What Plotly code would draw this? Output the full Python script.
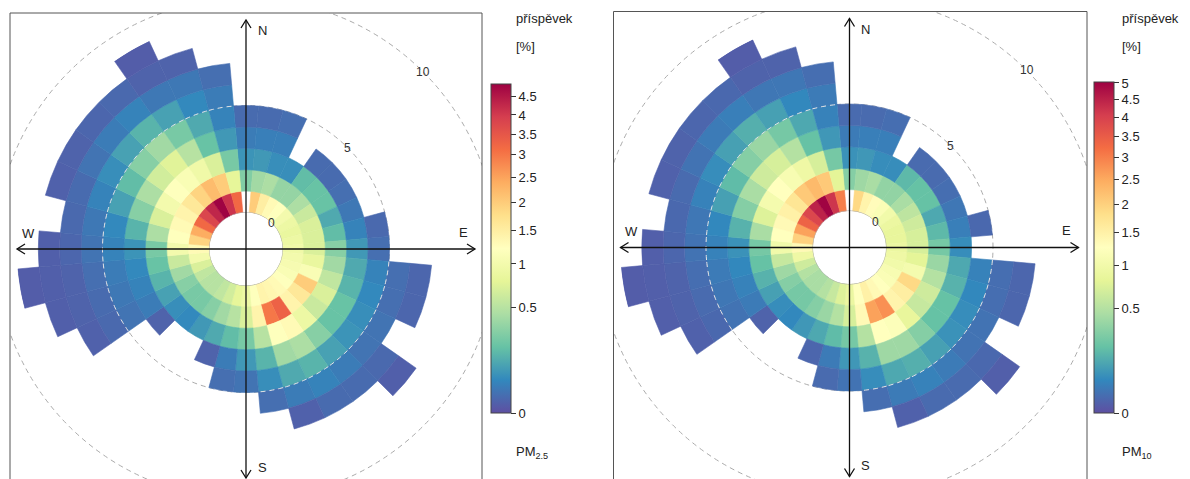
import numpy as np
import plotly.graph_objects as go

# ---------------- data ----------------
directions = list(range(0, 360, 10))          # wind direction bin centres (deg, from N clockwise)
speed_rings = list(range(1, 10))              # 1 m/s wind-speed bins (outer edge)
N = None

# PM2.5 contribution [%] per wind-speed bin, 36 directions
pm25_ws1 = [N, 2.0, 1.5, 1.3, 1.2, 1.0, 0.9, 0.85, 0.9, 0.95, 1.0, 1.05, 1.1, 1.2, 1.3, 1.35, 1.4, 1.2,
            0.9, 0.8, 0.65, 0.55, 0.5, 0.5, 0.55, 0.7, 1.0, 1.3, 1.9, 2.4, 3.2, 3.8, 4.3, 4.85, 4.1, 3.2]
pm25_ws2 = [0.28, 0.4, 0.45, 0.35, 0.35, 0.45, 0.6, 0.7, 0.7, 0.7, 0.85, 1.1, 2.0, 1.6, 1.4, 3.3, 3.0, 1.4,
            0.7, 0.5, 0.4, 0.3, 0.25, 0.25, 0.3, 0.4, 0.6, 1.0, 1.2, 1.3, 1.4, 1.6, 1.9, 2.2, 2.0, 0.8]
pm25_ws3 = [0.07, 0.08, 0.06, 0.06, 0.18, 0.2, 0.2, 0.12, 0.18, 0.3, 0.4, 0.55, 0.7, 0.6, 0.9, 1.3, 1.2, 0.5,
            0.25, 0.18, 0.12, 0.08, 0.05, 0.06, 0.1, 0.15, 0.2, 0.25, 0.45, 0.7, 1.0, 1.2, 1.1, 0.95, 0.7, 0.25]
pm25_ws4 = [0.03, 0.035, 0.035, N, 0.012, 0.012, 0.015, 0.025, 0.04, 0.08, 0.12, 0.15, 0.2, 0.2, 0.3, 0.45, 0.4, 0.15,
            0.08, 0.03, 0.006, N, N, 0.006, 0.03, 0.04, 0.05, 0.07, 0.15, 0.3, 0.45, 0.65, 0.75, 0.5, 0.2, 0.08]
pm25_ws5 = [0.012, 0.012, 0.015, N, N, N, N, N, 0.01, 0.015, 0.04, 0.05, 0.06, 0.07, 0.1, 0.15, 0.12, 0.06,
            0.02, 0.015, N, N, N, N, 0.02, 0.025, 0.03, 0.04, 0.05, 0.1, 0.18, 0.3, 0.4, 0.25, 0.12, 0.04]
pm25_ws6 = [N, N, N, N, N, N, N, N, N, N, 0.015, 0.015, 0.02, 0.02, 0.03, 0.04, 0.03, 0.015,
            N, N, N, N, N, N, 0.01, 0.012, 0.015, 0.02, 0.025, 0.04, 0.06, 0.1, 0.15, 0.1, 0.05, 0.03]
pm25_ws7 = [N, N, N, N, N, N, N, N, N, N, 0.008, 0.008, N, 0.01, 0.012, 0.012, 0.005, N,
            N, N, N, N, N, N, 0.005, 0.006, 0.006, 0.008, 0.01, 0.012, 0.02, 0.03, 0.04, 0.025, 0.025, 0.015]
pm25_ws8 = [N, N, N, N, N, N, N, N, N, N, N, N, N, 0.004, N, N, N, N,
            N, N, N, N, N, N, N, 0.004, 0.004, 0.004, N, 0.005, 0.006, 0.008, 0.01, 0.006, 0.006, N]
pm25_ws9 = [N, N, N, N, N, N, N, N, N, N, N, N, N, N, N, N, N, N,
            N, N, N, N, N, N, N, N, 0.003, N, N, N, N, N, N, 0.003, N, N]

# PM10 contribution [%]
pm10_ws1 = [N, 1.9, 1.45, 1.3, 1.15, 1.0, 0.9, 0.85, 0.85, 0.9, 0.95, 1.0, 1.1, 1.15, 1.25, 1.35, 1.5, 1.25,
            0.9, 0.75, 0.6, 0.5, 0.45, 0.45, 0.5, 0.65, 0.95, 1.35, 2.0, 2.6, 3.4, 3.9, 4.5, 5.0, 4.2, 3.0]
pm10_ws2 = [0.3, 0.4, 0.45, 0.35, 0.35, 0.45, 0.55, 0.65, 0.7, 0.7, 0.8, 1.05, 1.9, 1.55, 1.45, 2.8, 2.6, 1.35,
            0.7, 0.5, 0.38, 0.3, 0.25, 0.25, 0.3, 0.4, 0.6, 1.0, 1.25, 1.35, 1.5, 1.7, 2.1, 2.3, 2.1, 0.8]
pm10_ws3 = [0.07, 0.08, 0.06, 0.06, 0.17, 0.2, 0.2, 0.12, 0.17, 0.25, 0.38, 0.5, 0.65, 0.6, 0.85, 1.2, 1.25, 0.5,
            0.25, 0.18, 0.12, 0.08, 0.05, 0.06, 0.1, 0.15, 0.2, 0.25, 0.45, 0.75, 1.05, 1.25, 1.1, 0.95, 0.7, 0.25]
pm10_ws4 = [0.03, 0.035, 0.035, N, 0.012, 0.012, 0.015, 0.025, 0.035, 0.06, 0.12, 0.15, 0.2, 0.2, 0.3, 0.4, 0.4, 0.15,
            0.08, 0.03, 0.008, N, N, 0.006, 0.03, 0.04, 0.05, 0.07, 0.15, 0.3, 0.45, 0.65, 0.7, 0.5, 0.2, 0.08]
pm10_ws5 = [0.012, 0.012, 0.015, N, N, N, N, N, 0.01, N, 0.04, 0.05, 0.06, 0.07, 0.1, 0.14, 0.12, 0.06,
            0.02, 0.012, N, N, N, N, 0.02, 0.025, 0.03, 0.04, 0.05, 0.1, 0.18, 0.3, 0.38, 0.25, 0.12, 0.04]
pm10_ws6 = [N, N, N, N, N, N, N, N, N, N, 0.015, 0.015, 0.02, 0.02, 0.03, 0.04, 0.03, 0.015,
            N, N, N, N, N, N, 0.01, 0.012, 0.015, 0.02, 0.025, 0.04, 0.06, 0.1, 0.14, 0.1, 0.05, 0.03]
pm10_ws7 = [N, N, N, N, N, N, N, N, N, N, 0.008, 0.008, N, 0.01, 0.012, 0.012, 0.005, N,
            N, N, N, N, N, N, 0.005, 0.006, 0.006, 0.008, 0.01, 0.012, 0.02, 0.03, 0.035, 0.025, 0.025, 0.015]
pm10_ws8 = [N, N, N, N, N, N, N, N, N, N, N, N, N, 0.004, N, N, N, N,
            N, N, N, N, N, N, N, 0.004, 0.004, 0.004, N, 0.005, 0.006, 0.008, 0.01, 0.006, 0.006, N]
pm10_ws9 = [N, N, N, N, N, N, N, N, N, N, N, N, N, N, N, N, N, N,
            N, N, N, N, N, N, N, N, 0.003, N, N, N, N, N, N, 0.003, N, N]

pm25_rings = [pm25_ws1, pm25_ws2, pm25_ws3, pm25_ws4, pm25_ws5, pm25_ws6, pm25_ws7, pm25_ws8, pm25_ws9]
pm10_rings = [pm10_ws1, pm10_ws2, pm10_ws3, pm10_ws4, pm10_ws5, pm10_ws6, pm10_ws7, pm10_ws8, pm10_ws9]

pm25_scale_max = 4.875
pm10_scale_max = 5.03
pm25_ticks = [0, 0.5, 1, 1.5, 2, 2.5, 3, 3.5, 4, 4.5]
pm10_ticks = [0, 0.5, 1, 1.5, 2, 2.5, 3, 3.5, 4, 4.5, 5]
grid_speeds = [0, 5, 10]
compass = ["N", "E", "S", "W"]

# ---------------- layout geometry (page pixels) ----------------
OFF = 8                      # page body margin in front of the figure
W, H = 1190 - OFF, 479 - OFF  # figure size
HOLE = 36.5          # radius of the inner hole
PX = 21.4            # pixels per m/s
RPOL = 229.5         # polar outer radius
FONT = "Liberation Sans, Arial, Helvetica, sans-serif"

spectral_r = ['rgb(94,79,162)', 'rgb(50,136,189)', 'rgb(102,194,165)', 'rgb(171,221,164)',
              'rgb(230,245,152)', 'rgb(255,255,191)', 'rgb(254,224,139)', 'rgb(253,174,97)',
              'rgb(244,109,67)', 'rgb(213,62,79)', 'rgb(158,1,66)']
cscale = [[i / 10, c] for i, c in enumerate(spectral_r)]


def px2paper(x, y):
    """page pixel -> paper fraction"""
    return (x - OFF) / W, (H - (y - OFF)) / H


def path_px(points):
    parts = []
    for k, (x, y) in enumerate(points):
        a, b = px2paper(x, y)
        parts.append(("M" if k == 0 else "L") + f"{a:.6f},{b:.6f}")
    return " ".join(parts)


def label(x, y, txt, size=13, xanchor="center", color="#222"):
    lx, ly = px2paper(x, y)
    return dict(x=lx, y=ly, xref="paper", yref="paper", text=txt, showarrow=False,
                xanchor=xanchor, yanchor="middle", font=dict(family=FONT, size=size, color=color))


panels = [
    dict(rings=pm25_rings, vmax=pm25_scale_max, ticks=pm25_ticks, cx=246.0, cy=249.0,
         box=(10, 482, 13), cbar_x=491, cbar_top=84, cbar_bot=413, label="PM<sub>2.5</sub>",
         text_x=514),
    dict(rings=pm10_rings, vmax=pm10_scale_max, ticks=pm10_ticks, cx=849.5, cy=247.5,
         box=(613.5, 1087, 11.5), cbar_x=1094, cbar_top=82, cbar_bot=413, label="PM<sub>10</sub>",
         text_x=1120),
]

fig = go.Figure()
shapes, annotations = [], []
layout_polars = {}

for i, p in enumerate(panels):
    sub = "polar" if i == 0 else "polar2"
    th, base, col = [], [], []
    counts = [0] * len(directions)
    for k, ring in enumerate(p["rings"]):
        for j, (d, v) in enumerate(zip(directions, ring)):
            if v is not None:
                th.append(d)
                base.append(speed_rings[k] - 1)
                col.append(float(np.sqrt(v)))
                counts[j] = max(counts[j], speed_rings[k])
    cmax = float(np.sqrt(p["vmax"]))
    cb_len = p["cbar_bot"] - p["cbar_top"]
    cbx, cby = px2paper(p["cbar_x"], (p["cbar_top"] + p["cbar_bot"]) / 2)
    fig.add_trace(go.Barpolar(
        r=[1] * len(th), base=base, theta=th, width=10, subplot=sub,
        marker=dict(color=col, colorscale=cscale, cmin=0, cmax=cmax,
                    line=dict(width=0.6, color=col, colorscale=cscale, cmin=0, cmax=cmax),
                    colorbar=dict(
                        x=cbx, xanchor="left", xpad=0, ypad=0,
                        y=cby, yanchor="middle", len=cb_len, lenmode="pixels",
                        thickness=20, thicknessmode="pixels",
                        outlinewidth=1, outlinecolor="#444",
                        tickmode="array", tickvals=[float(np.sqrt(t)) for t in p["ticks"]],
                        ticktext=[f"{t:g}" for t in p["ticks"]],
                        ticks="outside", ticklen=5, tickwidth=1, tickcolor="#333",
                        tickfont=dict(family=FONT, size=13, color="#222"))),
        hoverinfo="skip", showlegend=False))

    # light dashed 5 m/s circle over the cells (where cells cross it)
    seg_t, seg_r = [], []
    for d, c in zip(directions, counts):
        if c > 5:
            seg_t += list(np.linspace(d - 5, d + 5, 8)) + [None]
            seg_r += [5] * 8 + [None]
    fig.add_trace(go.Scatterpolar(r=seg_r, theta=seg_t, mode="lines", subplot=sub,
                                  line=dict(color="#e6e6e6", width=1, dash="5px,4px"),
                                  hoverinfo="skip", showlegend=False, connectgaps=False))
    # hole outline
    ring_t = list(np.linspace(0, 360, 121))
    fig.add_trace(go.Scatterpolar(r=[0] * len(ring_t), theta=ring_t, mode="lines", subplot=sub,
                                  line=dict(color="#b0b0b0", width=1),
                                  hoverinfo="skip", showlegend=False))

    cx, cy = p["cx"], p["cy"]
    x0, y0 = px2paper(cx - RPOL, cy + RPOL)
    x1, y1 = px2paper(cx + RPOL, cy - RPOL)
    layout_polars[sub] = dict(
        domain=dict(x=[x0, x1], y=[max(y0, 0), min(y1, 1)]), hole=HOLE / RPOL, bgcolor="rgba(0,0,0,0)",
        radialaxis=dict(range=[0, (RPOL - HOLE) / PX], showticklabels=False, ticks="", showline=False,
                        tickmode="array", tickvals=[5], showgrid=True, gridcolor="#ababab",
                        griddash="5px,4px", gridwidth=1),
        angularaxis=dict(rotation=90, direction="clockwise", showgrid=False, showline=False,
                         showticklabels=False, ticks=""))

    # outer (10 m/s) dashed circle, extends beyond the panel box
    r10 = HOLE + PX * 10
    a0, b0 = px2paper(cx - r10, cy + r10)
    a1, b1 = px2paper(cx + r10, cy - r10)
    shapes.append(dict(type="circle", xref="paper", yref="paper", x0=a0, y0=b0, x1=a1, y1=b1,
                       line=dict(color="#ababab", width=1, dash="5px,4px"), layer="above"))

    # grid speed labels on the 45 deg diagonal
    for gsp in grid_speeds:
        rr = HOLE + PX * gsp
        annotations.append(label(cx + rr * np.sin(np.pi / 4), cy - rr * np.cos(np.pi / 4),
                                 str(gsp), size=12, color="#333"))

    # compass labels
    offs = {"N": (16, -218), "E": (217, -17), "S": (16, 218), "W": (-218, -16)}
    for c in compass:
        ox, oy = offs[c]
        annotations.append(label(cx + ox, cy + oy, c, size=13))

    # colour bar titles
    tx = p["text_x"]
    for txt, yy in [("příspěvek", 19), ("[%]", 47), (p["label"], 452)]:
        annotations.append(label(tx, yy, txt, size=13, xanchor="left"))

# white masks outside the two panel boxes (clip the outer circles), then box outlines
masks = [(0, 0, 10, 479), (0, 0, 500, 13), (482, 0, 499, 479),
         (590, 0, 613.5, 479), (590, 0, 1110, 11.5), (1087, 0, 1102, 479)]
for (mx0, my0, mx1, my1) in masks:
    a0, b0 = px2paper(mx0, my1)
    a1, b1 = px2paper(mx1, my0)
    shapes.append(dict(type="rect", xref="paper", yref="paper", x0=a0, y0=b0, x1=a1, y1=b1,
                       fillcolor="white", line=dict(width=0), layer="above"))
for p in panels:
    bx0, bx1, by0 = p["box"]
    a0, b0 = px2paper(bx0, 500)
    a1, b1 = px2paper(bx1, by0)
    shapes.append(dict(type="rect", xref="paper", yref="paper", x0=a0, y0=b0, x1=a1, y1=b1,
                       line=dict(color="#555", width=1), fillcolor="rgba(0,0,0,0)", layer="above"))
    # compass axes with open arrow heads
    cx, cy = p["cx"], p["cy"]
    L, hl, hw = 229, 8, 5
    axis_paths = [
        [(cx - L, cy), (cx + L, cy)],
        [(cx, cy - L), (cx, cy + L)],
        [(cx + L - hl, cy - hw), (cx + L, cy), (cx + L - hl, cy + hw)],
        [(cx - L + hl, cy - hw), (cx - L, cy), (cx - L + hl, cy + hw)],
        [(cx - hw, cy - L + hl), (cx, cy - L), (cx + hw, cy - L + hl)],
        [(cx - hw, cy + L - hl), (cx, cy + L), (cx + hw, cy + L - hl)],
    ]
    for pts in axis_paths:
        shapes.append(dict(type="path", xref="paper", yref="paper", path=path_px(pts),
                           line=dict(color="#111", width=1.3), layer="above"))

fig.update_layout(width=W, height=H, margin=dict(l=0, r=0, t=0, b=0, autoexpand=False),
                  paper_bgcolor="white", plot_bgcolor="white",
                  shapes=shapes, annotations=annotations, showlegend=False, **layout_polars)

fig.write_html("out.html")
